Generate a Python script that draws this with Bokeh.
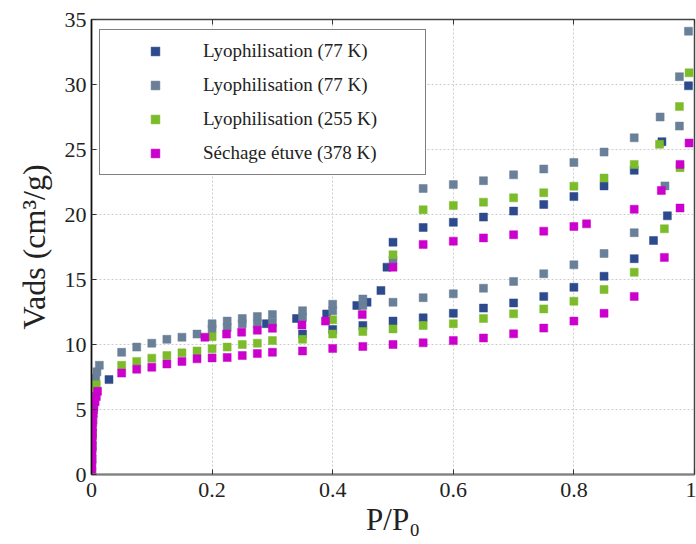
from bokeh.plotting import figure
from bokeh.models import (Range1d, FixedTicker, LinearAxis, Legend, LegendItem,
                          ColumnDataSource, CustomLabelingPolicy)
from bokeh.embed import file_html
from bokeh.resources import INLINE

# ---- data (P/P0, Vads cm3/g) ----
blue_ads_p = [0.0003, 0.0006, 0.001, 0.0015, 0.002, 0.003, 0.004, 0.006, 0.029,
              0.35, 0.4, 0.45, 0.5, 0.55, 0.6, 0.65, 0.7, 0.75, 0.8, 0.85, 0.9, 0.932, 0.955]
blue_ads_v = [0.3, 1.2, 2.2, 3.2, 4.2, 5.0, 5.8, 6.6, 7.3,
              10.8, 11.15, 11.46, 11.8, 12.05, 12.4, 12.8, 13.2, 13.7, 14.4, 15.25, 16.6, 18.0, 19.9]
blue_des_p = [0.99, 0.946, 0.9, 0.85, 0.8, 0.75, 0.7, 0.65, 0.6, 0.55, 0.5, 0.49, 0.48,
              0.457, 0.44, 0.39, 0.34, 0.29]
blue_des_v = [29.9, 25.6, 23.4, 22.2, 21.38, 20.77, 20.26, 19.8, 19.4, 19.0, 17.87, 15.95, 14.15,
              13.25, 13.0, 12.35, 12.0, 11.6]

gray_ads_p = [0.0002, 0.0005, 0.001, 0.0015, 0.002, 0.003, 0.004, 0.005, 0.007, 0.009, 0.013,
              0.05, 0.075, 0.1, 0.125, 0.15, 0.175, 0.2, 0.225, 0.25, 0.275, 0.3, 0.35, 0.4, 0.45,
              0.5, 0.55, 0.6, 0.65, 0.7, 0.75, 0.8, 0.85, 0.9, 0.951, 0.975]
gray_ads_v = [0.2, 1.0, 2.0, 3.0, 4.0, 5.0, 6.0, 6.8, 7.4, 7.9, 8.4,
              9.4, 9.8, 10.1, 10.4, 10.56, 10.8, 11.2, 11.3, 11.6, 11.6, 11.7, 12.1, 12.6, 13.0,
              13.25, 13.6, 13.9, 14.33, 14.85, 15.44, 16.13, 17.0, 18.6, 22.2, 26.8]
gray_des_p = [0.99, 0.975, 0.943, 0.9, 0.85, 0.8, 0.75, 0.7, 0.65, 0.6, 0.55, 0.5, 0.45,
              0.4, 0.35, 0.3, 0.275, 0.25, 0.225, 0.2]
gray_des_v = [34.1, 30.6, 27.5, 25.9, 24.8, 24.0, 23.5, 23.05, 22.6, 22.3, 22.0, 16.5, 13.5,
              13.1, 12.6, 12.3, 12.15, 12.0, 11.8, 11.6]

green_ads_p = [0.0003, 0.0006, 0.001, 0.0015, 0.002, 0.003, 0.004, 0.006, 0.008,
               0.05, 0.075, 0.1, 0.125, 0.15, 0.175, 0.2, 0.225, 0.25, 0.275, 0.3, 0.35, 0.4,
               0.45, 0.5, 0.55, 0.6, 0.65, 0.7, 0.75, 0.8, 0.85, 0.9, 0.95, 0.976]
green_ads_v = [0.3, 1.1, 2.1, 3.1, 4.1, 5.0, 5.7, 6.4, 6.9,
               8.4, 8.7, 8.95, 9.15, 9.36, 9.5, 9.67, 9.8, 10.0, 10.1, 10.3, 10.4, 10.8,
               11.0, 11.2, 11.46, 11.6, 12.0, 12.36, 12.74, 13.33, 14.23, 15.56, 18.9, 23.6]
green_des_p = [0.991, 0.975, 0.942, 0.9, 0.85, 0.8, 0.75, 0.7, 0.65, 0.6, 0.55, 0.5, 0.4, 0.2]
green_des_v = [30.9, 28.3, 25.4, 23.85, 22.8, 22.18, 21.67, 21.28, 20.95, 20.7, 20.36, 16.9, 11.9, 10.6]

mag_ads_p = [0.0003, 0.0005, 0.0007, 0.0009, 0.001, 0.0012, 0.0014, 0.0016, 0.002, 0.003,
             0.004, 0.006, 0.008, 0.01, 0.05, 0.075, 0.1, 0.125, 0.15, 0.175, 0.2, 0.225,
             0.25, 0.275, 0.3, 0.35, 0.4, 0.45, 0.5, 0.55, 0.6, 0.65, 0.7, 0.75, 0.8, 0.85,
             0.9, 0.95, 0.976]
mag_ads_v = [0.2, 0.7, 1.2, 1.7, 2.2, 2.7, 3.2, 3.7, 4.2, 4.7,
             5.2, 5.6, 6.0, 6.4, 7.8, 8.1, 8.25, 8.5, 8.7, 8.9, 8.97, 9.0,
             9.15, 9.3, 9.4, 9.5, 9.7, 9.85, 10.0, 10.13, 10.3, 10.5, 10.82, 11.26, 11.8, 12.4,
             13.7, 16.7, 20.5]
mag_des_p = [0.991, 0.976, 0.945, 0.9, 0.821, 0.8, 0.75, 0.7, 0.65, 0.6, 0.55, 0.5, 0.449,
             0.388, 0.349, 0.3, 0.275, 0.249, 0.224, 0.188]
mag_des_v = [25.5, 23.85, 21.85, 20.4, 19.28, 19.08, 18.72, 18.44, 18.2, 17.95, 17.7, 15.95, 12.3,
             11.8, 11.5, 11.25, 11.1, 10.95, 10.8, 10.56]

labels = ["Lyophilisation (77 K)", "Lyophilisation (77 K)",
          "Lyophilisation (255 K)", "Séchage étuve (378 K)"]
colors = ["#2C4A8C", "#6A7F98", "#7CBB2A", "#CC00CC"]

x_ticks = [0, 0.2, 0.4, 0.6, 0.8, 1]
x_tick_labels = ["0", "0.2", "0.4", "0.6", "0.8", "1"]
y_ticks = [0, 5, 10, 15, 20, 25, 30, 35]

FONT = "Liberation Serif"

p = figure(width=696, height=544, output_backend="svg", toolbar_location=None,
           x_range=Range1d(0, 1), y_range=Range1d(0, 35),
           min_border_left=91, min_border_right=2, min_border_top=19, min_border_bottom=70)
p.background_fill_color = "white"
p.border_fill_color = "white"
p.outline_line_color = "#444444"
p.outline_line_width = 1.5

for ax in (p.xaxis[0], p.yaxis[0]):
    ax.major_label_text_font = FONT
    ax.major_label_text_font_size = "22px"
    ax.major_label_text_color = "#222222"
    ax.axis_label_text_font = FONT
    ax.axis_label_text_font_style = "normal"
    ax.axis_label_text_color = "#222222"
    ax.major_tick_in = 5
    ax.major_tick_out = 0
    ax.minor_tick_in = 0
    ax.minor_tick_out = 0
    ax.major_tick_line_color = "#333333"

p.xaxis.ticker = FixedTicker(ticks=x_ticks)
p.xaxis.major_label_overrides = {t: s for t, s in zip(x_ticks, x_tick_labels)}
p.xaxis.axis_label = "P/P₀"
p.xaxis.axis_label_text_font_size = "31px"
p.xaxis.axis_label_standoff = 2
p.xaxis.major_label_standoff = 8
p.xaxis.axis_line_color = "#808080"
p.xaxis.axis_line_width = 2

p.yaxis.ticker = FixedTicker(ticks=y_ticks)
p.yaxis.axis_label = "Vads (cm³/g)"
p.yaxis.axis_label_text_font_size = "32px"
p.yaxis.axis_label_standoff = 10
p.yaxis.major_label_standoff = 5
p.yaxis.axis_line_color = "#111111"
p.yaxis.axis_line_width = 1.5

no_labels = CustomLabelingPolicy(code="""
    const all = Array.from(indices)
    for (const i of all) indices.unset(i)
    return indices
""")
top = LinearAxis(ticker=FixedTicker(ticks=x_ticks), major_label_policy=no_labels,
                 major_label_standoff=0, major_tick_in=5, major_tick_out=0,
                 minor_tick_in=0, minor_tick_out=0, axis_line_color="#444444",
                 major_tick_line_color="#333333")
p.add_layout(top, "above")

p.xgrid.ticker = FixedTicker(ticks=x_ticks[1:-1])
p.ygrid.ticker = FixedTicker(ticks=y_ticks[1:-1])
for g in (p.xgrid[0], p.ygrid[0]):
    g.grid_line_color = "#cccccc"
    g.grid_line_dash = "2 2"
    g.grid_line_width = 1

series = [
    (blue_ads_p + blue_des_p, blue_ads_v + blue_des_v),
    (gray_ads_p + gray_des_p, gray_ads_v + gray_des_v),
    (green_ads_p + green_des_p, green_ads_v + green_des_v),
    (mag_ads_p + mag_des_p, mag_ads_v + mag_des_v),
]

items = []
for (xs, ys), lab, col in zip(series, labels, colors):
    src = ColumnDataSource(dict(x=xs, y=ys))
    r = p.scatter("x", "y", source=src, marker="square", size=8,
                  fill_color=col, line_color=col, line_width=0.5)
    items.append(LegendItem(label=lab, renderers=[r]))

legend = Legend(items=items, location=(8, 299), margin=0, padding=10,
                border_line_color="black", border_line_width=1.5,
                background_fill_color="white", background_fill_alpha=1,
                label_text_font=FONT, label_text_font_size="19px",
                label_text_color="#222222",
                glyph_width=90, glyph_height=22, label_height=22, label_width=212,
                label_standoff=3, spacing=12)
p.add_layout(legend)

open("out.html", "w").write(file_html(p, INLINE))
